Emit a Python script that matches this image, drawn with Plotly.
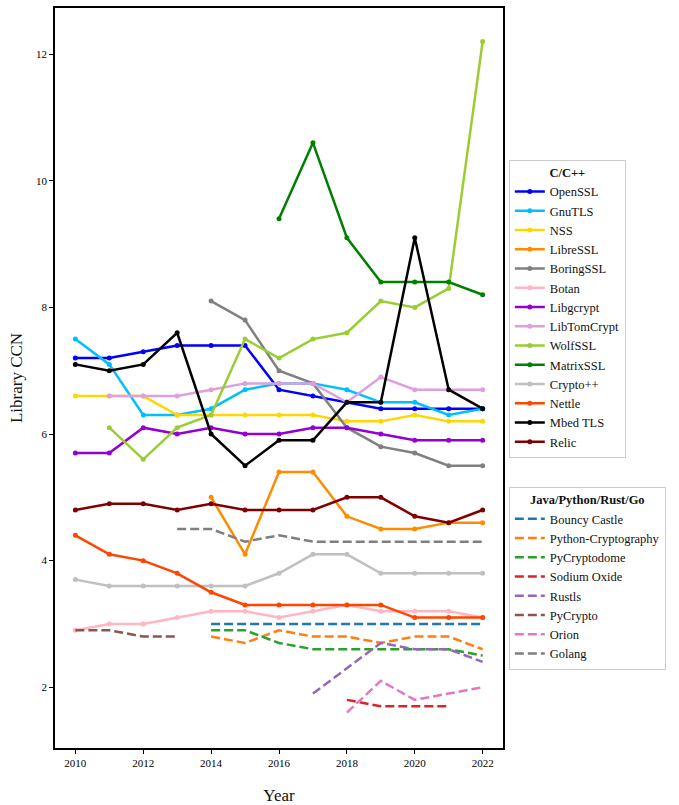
import plotly.graph_objects as go

years = list(range(2010, 2023))

# C/C++ libraries (None = no release data for that year)
openssl     = [7.2, 7.2, 7.3, 7.4, 7.4, 7.4, 6.7, 6.6, 6.5, 6.4, 6.4, 6.4, 6.4]
gnutls      = [7.5, 7.1, 6.3, 6.3, 6.4, 6.7, 6.8, 6.8, 6.7, 6.5, 6.5, 6.3, 6.4]
nss         = [6.6, 6.6, 6.6, 6.3, 6.3, 6.3, 6.3, 6.3, 6.2, 6.2, 6.3, 6.2, 6.2]
libressl    = [None, None, None, None, 5.0, 4.1, 5.4, 5.4, 4.7, 4.5, 4.5, 4.6, 4.6]
boringssl   = [None, None, None, None, 8.1, 7.8, 7.0, 6.8, 6.1, 5.8, 5.7, 5.5, 5.5]
botan       = [2.9, 3.0, 3.0, 3.1, 3.2, 3.2, 3.1, 3.2, 3.3, 3.2, 3.2, 3.2, 3.1]
libgcrypt   = [5.7, 5.7, 6.1, 6.0, 6.1, 6.0, 6.0, 6.1, 6.1, 6.0, 5.9, 5.9, 5.9]
libtomcrypt = [None, 6.6, 6.6, 6.6, 6.7, 6.8, 6.8, 6.8, 6.5, 6.9, 6.7, 6.7, 6.7]
wolfssl     = [None, 6.1, 5.6, 6.1, 6.3, 7.5, 7.2, 7.5, 7.6, 8.1, 8.0, 8.3, 12.2]
matrixssl   = [None, None, None, None, None, None, 9.4, 10.6, 9.1, 8.4, 8.4, 8.4, 8.2]
cryptopp    = [3.7, 3.6, 3.6, 3.6, 3.6, 3.6, 3.8, 4.1, 4.1, 3.8, 3.8, 3.8, 3.8]
nettle      = [4.4, 4.1, 4.0, 3.8, 3.5, 3.3, 3.3, 3.3, 3.3, 3.3, 3.1, 3.1, 3.1]
mbedtls     = [7.1, 7.0, 7.1, 7.6, 6.0, 5.5, 5.9, 5.9, 6.5, 6.5, 9.1, 6.7, 6.4]
relic       = [4.8, 4.9, 4.9, 4.8, 4.9, 4.8, 4.8, 4.8, 5.0, 5.0, 4.7, 4.6, 4.8]

# Java / Python / Rust / Go libraries
bouncy_castle = [None, None, None, None, 3.0, 3.0, 3.0, 3.0, 3.0, 3.0, 3.0, 3.0, 3.0]
python_crypto = [None, None, None, None, 2.8, 2.7, 2.9, 2.8, 2.8, 2.7, 2.8, 2.8, 2.6]
pycryptodome  = [None, None, None, None, 2.9, 2.9, 2.7, 2.6, 2.6, 2.6, 2.6, 2.6, 2.5]
sodium_oxide  = [None, None, None, None, None, None, None, None, 1.8, 1.7, 1.7, 1.7, None]
rustls        = [None, None, None, None, None, None, None, 1.9, 2.3, 2.7, 2.6, 2.6, 2.4]
pycrypto      = [2.9, 2.9, 2.8, 2.8, None, None, None, None, None, None, None, None, None]
orion         = [None, None, None, None, None, None, None, None, 1.6, 2.1, 1.8, 1.9, 2.0]
golang        = [None, None, None, 4.5, 4.5, 4.3, 4.4, 4.3, 4.3, 4.3, 4.3, 4.3, 4.3]

c_series = [
    ("OpenSSL", openssl, "#0000ff"),
    ("GnuTLS", gnutls, "#00bfff"),
    ("NSS", nss, "#ffd700"),
    ("LibreSSL", libressl, "#ff8c00"),
    ("BoringSSL", boringssl, "#808080"),
    ("Botan", botan, "#ffb6c1"),
    ("Libgcrypt", libgcrypt, "#9400d3"),
    ("LibTomCrypt", libtomcrypt, "#dda0dd"),
    ("WolfSSL", wolfssl, "#9acd32"),
    ("MatrixSSL", matrixssl, "#008000"),
    ("Crypto++", cryptopp, "#c0c0c0"),
    ("Nettle", nettle, "#ff4500"),
    ("Mbed TLS", mbedtls, "#000000"),
    ("Relic", relic, "#800000"),
]

other_series = [
    ("Bouncy Castle", bouncy_castle, "#1f77b4"),
    ("Python-Cryptography", python_crypto, "#ff7f0e"),
    ("PyCryptodome", pycryptodome, "#2ca02c"),
    ("Sodium Oxide", sodium_oxide, "#d62728"),
    ("Rustls", rustls, "#9467bd"),
    ("PyCrypto", pycrypto, "#8c564b"),
    ("Orion", orion, "#e377c2"),
    ("Golang", golang, "#7f7f7f"),
]

FONT = "Liberation Serif, DejaVu Serif, serif"

fig = go.Figure()

for name, vals, color in c_series:
    fig.add_trace(go.Scatter(
        x=years, y=vals, name=name, mode="lines+markers",
        line=dict(color=color, width=2.5),
        marker=dict(color=color, size=5),
        connectgaps=False, legend="legend",
    ))

for name, vals, color in other_series:
    fig.add_trace(go.Scatter(
        x=years, y=vals, name=name, mode="lines",
        line=dict(color=color, width=2.5, dash="9px,4px"),
        connectgaps=False, legend="legend2",
    ))

legend_common = dict(
    bgcolor="white", bordercolor="#cccccc", borderwidth=1,
    font=dict(family=FONT, size=12.5, color="#111111"),
    xanchor="left", yanchor="top", tracegroupgap=0,
)

fig.update_layout(
    width=679, height=805,
    margin=dict(l=55, r=176, t=8, b=57, autoexpand=False),
    paper_bgcolor="white", plot_bgcolor="white",
    font=dict(family=FONT, color="#111111"),
    showlegend=True,
    legend=dict(
        x=1.013, y=0.795,
        title=dict(text="<b>C/C++</b>", side="top center",
                   font=dict(family=FONT, size=12.5)),
        **legend_common,
    ),
    legend2=dict(
        x=1.013, y=0.353,
        title=dict(text="<b>Java/Python/Rust/Go</b>", side="top center",
                   font=dict(family=FONT, size=12.5)),
        **legend_common,
    ),
    xaxis=dict(
        range=[2009.4, 2022.6],
        tickmode="array", tickvals=list(range(2010, 2023, 2)),
        ticks="outside", ticklen=4, tickwidth=1, tickcolor="black",
        showline=True, linecolor="black", linewidth=1.5, mirror=True,
        showgrid=False, zeroline=False, automargin=False,
        tickfont=dict(family=FONT, size=11, color="#000000"),
        title=dict(text="Year", font=dict(family=FONT, size=17), standoff=22),
    ),
    yaxis=dict(
        range=[1.04, 12.73],
        tickmode="array", tickvals=[2, 4, 6, 8, 10, 12],
        ticks="outside", ticklen=4, tickwidth=1, tickcolor="black",
        showline=True, linecolor="black", linewidth=1.5, mirror=True,
        showgrid=False, zeroline=False, automargin=False,
        tickfont=dict(family=FONT, size=11, color="#000000"),
        title=dict(text="Library CCN", font=dict(family=FONT, size=17), standoff=9),
    ),
)

fig.write_html("out.html")
